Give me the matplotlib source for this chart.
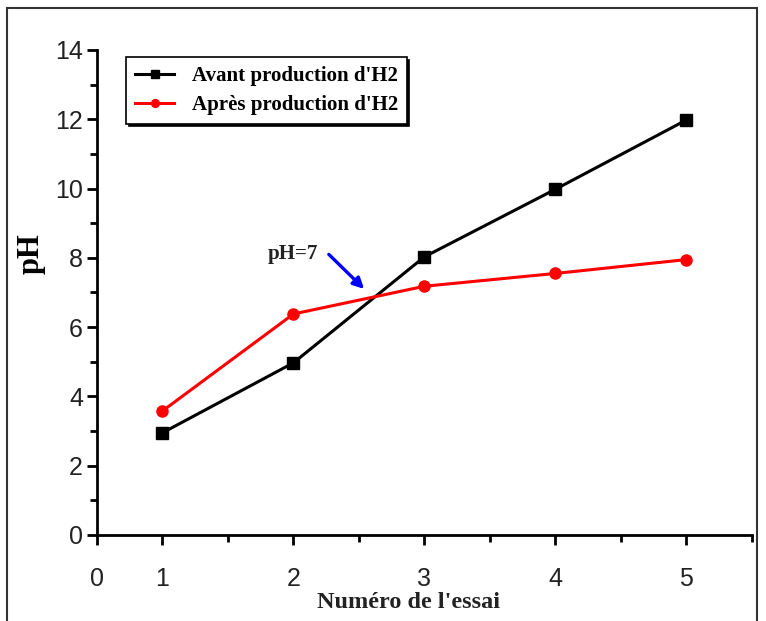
import matplotlib
matplotlib.use("Agg")
import matplotlib.pyplot as plt
from matplotlib.patches import Rectangle

# Data
essai = [1, 2, 3, 4, 5]
ph_avant = [2.95, 4.97, 8.03, 9.98, 11.98]
ph_apres = [3.58, 6.38, 7.18, 7.55, 7.95]

xtick_pos = [0.5, 1, 2, 3, 4, 5]
xtick_labels = ["0", "1", "2", "3", "4", "5"]
ytick_pos = [0, 2, 4, 6, 8, 10, 12, 14]

serif = "Liberation Serif"
sans = "Liberation Sans"

fig = plt.figure(figsize=(7.66, 6.21), dpi=100)
ax = fig.add_axes([0.1266, 0.1385, 0.855, 0.781])

# Outer frame around the whole picture
fig.patches.append(Rectangle((0.009, -0.01), 0.979, 0.997, transform=fig.transFigure,
                             fill=False, edgecolor="#333333", linewidth=1.5))

ax.plot(essai, ph_avant, color="black", marker="s", markersize=8, linewidth=2.2,
        label="Avant production d'H2")
ax.plot(essai, ph_apres, color="red", marker="o", markersize=8, linewidth=2.2,
        label="Après production d'H2")

ax.set_xlim(0.5, 5.5)
ax.set_ylim(0, 14)
ax.set_xticks(xtick_pos)
ax.set_xticklabels(xtick_labels)
ax.set_xticks([1.5, 2.5, 3.5, 4.5, 5.5], minor=True)
ax.set_yticks(ytick_pos)
ax.set_yticks([1, 3, 5, 7, 9, 11, 13], minor=True)

for lab in ax.get_xticklabels() + ax.get_yticklabels():
    lab.set_fontfamily(sans)
    lab.set_fontsize(18)
    lab.set_color("#222222")

ax.tick_params(which="major", length=7, width=2, direction="out")
ax.tick_params(which="minor", length=5, width=2, direction="out")
ax.tick_params(axis="x", which="major", pad=16)
ax.tick_params(axis="y", which="major", pad=3)

for s in ["top", "right"]:
    ax.spines[s].set_visible(False)
for s in ["left", "bottom"]:
    ax.spines[s].set_linewidth(2)

ax.set_xlabel("Numéro de l'essai", fontfamily=serif, fontweight="bold",
              fontsize=17.5, color="#222222", va="center")
ax.xaxis.set_label_coords(0.476, -0.14)
ax.set_ylabel("pH", fontfamily=serif, fontweight="bold", fontsize=22)
ax.yaxis.set_label_coords(-0.078, 0.58)

# pH = 7 annotation with blue arrow
ax.text(1.80, 8.1, "pH=7", va="center", fontfamily=serif, fontweight="bold",
        fontsize=15, color="#222222")
ax.annotate("", xy=(2.54, 7.1), xytext=(2.27, 8.1),
            arrowprops=dict(arrowstyle="-|>", color="blue", lw=2.4,
                            shrinkA=0, shrinkB=0, mutation_scale=16))

leg = ax.legend(loc="upper left", bbox_to_anchor=(0.029, 1.006), frameon=True,
                fancybox=False, shadow={"color": "black", "alpha": 1},
                edgecolor="black", borderpad=0.4, labelspacing=0.45,
                handlelength=1.9, handletextpad=0.85, markerscale=0.7,
                prop={"family": serif, "weight": "bold", "size": 15})
leg.get_frame().set_linewidth(1.2)

fig.savefig("out.png", dpi=100)
